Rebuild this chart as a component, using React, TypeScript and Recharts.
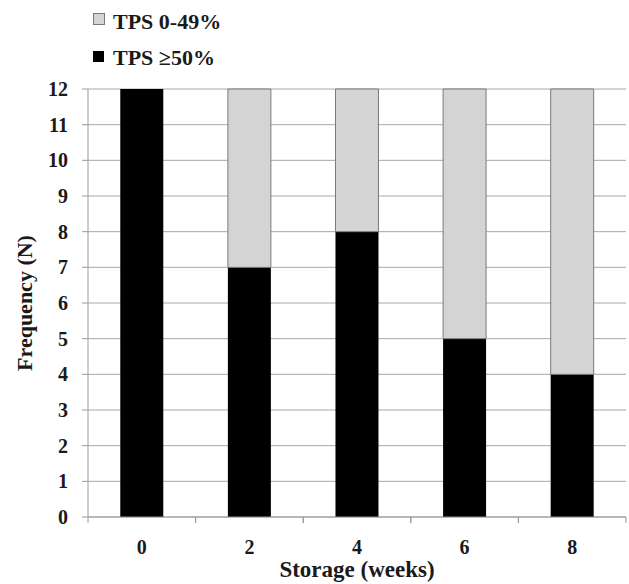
import React from 'react';
import { BarChart, Bar, XAxis, YAxis, CartesianGrid, Legend } from 'recharts';

const weeks = ['0', '2', '4', '6', '8'];
const tpsHigh = [12, 7, 8, 5, 4];
const tpsLow = [0, 5, 4, 7, 8];
const yTicks = [0, 1, 2, 3, 4, 5, 6, 7, 8, 9, 10, 11, 12];
const seriesNames = { low: 'TPS 0-49%', high: 'TPS \u226550%' };

const data = weeks.map((w, i) => ({ week: w, high: tpsHigh[i], low: tpsLow[i] }));

const FONT = '"Liberation Serif", "Times New Roman", serif';
const TEXT = '#1a1a1a';
const AXIS = '#9a9a9a';

const XTick = (props: any) => {
  const { x, y, payload, width, visibleTicksCount } = props;
  const half = payload && payload.offset ? payload.offset : width / visibleTicksCount / 2;
  return (
    <g>
      <line x1={x - half} x2={x - half} y1={y} y2={y + 6} stroke={AXIS} />
      <line x1={x + half} x2={x + half} y1={y} y2={y + 6} stroke={AXIS} />
      <text x={x} y={y + 37} textAnchor="middle" fontFamily={FONT} fontWeight="bold" fontSize={20} fill={TEXT}>
        {payload.value}
      </text>
    </g>
  );
};

const YLabel = (props: any) => {
  const vb = props.viewBox || {};
  const cx = 24;
  const cy = vb.y + vb.height / 2;
  return (
    <text
      x={cx}
      y={cy}
      transform={`rotate(-90 ${cx} ${cy})`}
      textAnchor="middle"
      dominantBaseline="central"
      fontFamily={FONT}
      fontWeight="bold"
      fontSize={22}
      fill={TEXT}
    >
      Frequency (N)
    </text>
  );
};

const XLabel = (props: any) => {
  const vb = props.viewBox || {};
  const cx = vb.x + vb.width / 2;
  return (
    <text x={cx} y={vb.y + 60} textAnchor="middle" fontFamily={FONT} fontWeight="bold" fontSize={23} fill={TEXT}>
      Storage (weeks)
    </text>
  );
};

const LegendContent = () => (
  <svg width={300} height={80} style={{ display: 'block' }}>
    <rect x={93.5} y={13.5} width={11} height={11} fill="#d4d4d4" stroke="#7a7a7a" />
    <text x={113} y={29} fontFamily={FONT} fontWeight="bold" fontSize={22} fill={TEXT}>
      {seriesNames.low}
    </text>
    <rect x={93} y={51} width={11} height={11} fill="#000" />
    <text x={113} y={65} fontFamily={FONT} fontWeight="bold" fontSize={22} fill={TEXT}>
      {seriesNames.high}
    </text>
  </svg>
);

export default function App() {
  return (
    <div style={{ position: 'absolute', left: 0, top: 0, width: 629, height: 584, background: '#fff' }}>
      <BarChart
        width={629}
        height={584}
        data={data}
        margin={{ top: 89, right: 3, bottom: 0, left: 0 }}
        barCategoryGap="30%"
      >
        <CartesianGrid vertical={false} stroke="#a8a8a8" />
        <XAxis
          dataKey="week"
          height={67}
          tickLine={false}
          tickSize={0}
          tickMargin={0}
          axisLine={{ stroke: AXIS }}
          tick={<XTick />}
          interval={0}
          label={<XLabel />}
        />
        <YAxis
          width={88}
          domain={[0, 12]}
          ticks={yTicks}
          interval={0}
          tickSize={6}
          tickMargin={14}
          tickLine={{ stroke: AXIS }}
          axisLine={{ stroke: AXIS }}
          tick={{ fontFamily: FONT, fontWeight: 'bold', fontSize: 20, fill: TEXT }}
          label={<YLabel />}
        />
        <Legend
          layout="vertical"
          align="center"
          verticalAlign="middle"
          content={<LegendContent />}
          wrapperStyle={{ position: 'absolute', top: 0, left: 0, width: 300, height: 80 }}
        />
        <Bar dataKey="high" name={seriesNames.high} stackId="a" fill="#000000" isAnimationActive={false} />
        <Bar dataKey="low" name={seriesNames.low} stackId="a" fill="#d4d4d4" stroke="#7a7a7a" strokeWidth={1} isAnimationActive={false} />
      </BarChart>
    </div>
  );
}
